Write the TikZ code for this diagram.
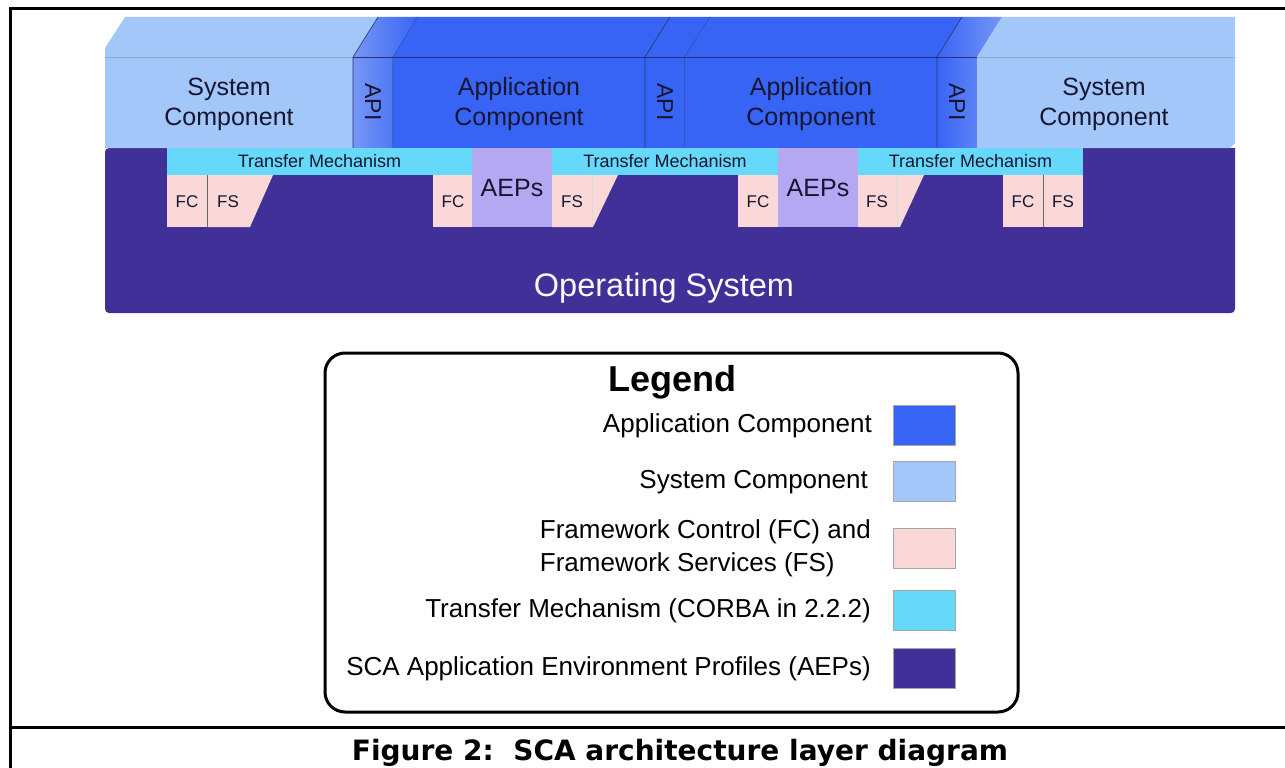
\documentclass[tikz,border=0pt]{standalone}
\usepackage{fontspec}
\setmainfont{Liberation Sans}
\newfontfamily\capfont{DejaVu Sans}

\definecolor{appblue}{RGB}{56,100,245}
\definecolor{apilight}{RGB}{118,150,246}
\definecolor{sysblue}{RGB}{164,199,250}
\definecolor{fwpink}{RGB}{250,216,216}
\definecolor{tmcyan}{RGB}{102,216,250}
\definecolor{aepdark}{RGB}{64,48,152}
\definecolor{aeplav}{RGB}{180,168,242}
\definecolor{edgeline}{RGB}{40,50,110}
\definecolor{inktext}{RGB}{22,22,48}

\tikzset{
  lbl/.style={inner sep=0pt, text=inktext, font=\fontsize{25}{30}\selectfont, align=center},
  apilbl/.style={inner sep=0pt, text=inktext, font=\fontsize{23}{23}\selectfont, rotate=-90},
  tmlbl/.style={inner sep=0pt, text=inktext, font=\fontsize{18}{18}\selectfont},
  fclbl/.style={inner sep=0pt, text=inktext, font=\fontsize{17}{17}\selectfont},
  aeplbl/.style={inner sep=0pt, text=inktext, font=\fontsize{25}{25}\selectfont},
  thin edge/.style={draw=edgeline, line width=0.6pt},
  legtxt/.style={inner sep=0pt, anchor=east, font=\fontsize{26}{33}\selectfont, align=left},
  swatch/.style={draw=black!35, line width=0.6pt, minimum width=62pt, minimum height=40pt, inner sep=0pt}
}

\begin{document}
\begin{tikzpicture}[x=1pt, y=-1pt]
\useasboundingbox (0,0) rectangle (1285,768);
\fill[white] (0,0) rectangle (1285,768);

% ---- outer frame and caption rule
\draw[line width=3pt] (1300,9) -- (10,9) -- (10,790);
\draw[line width=3pt] (10,727) -- (1300,727);

% ---- operating system slab
\fill[aepdark] (105,148) -- (1235,148) -- (1235,308) [rounded corners=4pt] -- (1235,313) -- (105,313) -- cycle;

% ---- left system component
\fill[sysblue] (105,148) -- (105,48) -- (125,17) -- (378,17) -- (353,57) -- (353,148) -- cycle;
\draw[sysblue!85!black, line width=0.4pt] (105,57) -- (353,57);

% ---- first API (shaded)
\shade[left color=apilight, right color=appblue] (353,148) -- (353,57) -- (378,17) -- (418,17) -- (393,57) -- (393,148) -- cycle;
\draw[thin edge] (353,148) -- (353,57) -- (378,17);
\draw[thin edge] (393,148) -- (393,57) -- (418,17);
\draw[thin edge] (353,57) -- (393,57);

% ---- first application component
\fill[appblue] (393,148) -- (393,57) -- (418,17) -- (670,17) -- (645,57) -- (645,148) -- cycle;
\draw[thin edge] (393,57) -- (645,57);

% ---- middle API
\fill[appblue] (645,148) -- (645,57) -- (670,17) -- (710,17) -- (685,57) -- (685,148) -- cycle;
\draw[thin edge] (645,148) -- (645,57) -- (670,17);
\draw[thin edge] (685,148) -- (685,57) -- (710,17);
\draw[thin edge] (645,57) -- (685,57);

% ---- second application component
\fill[appblue] (685,148) -- (685,57) -- (710,17) -- (962,17) -- (937,57) -- (937,148) -- cycle;
\draw[thin edge] (685,57) -- (937,57);

% ---- right API (shaded)
\shade[left color=appblue, right color=apilight] (937,148) -- (937,57) -- (962,17) -- (1002,17) -- (977,57) -- (977,148) -- cycle;
\draw[thin edge] (937,148) -- (937,57) -- (962,17);
\draw[thin edge] (937,57) -- (977,57);

% ---- right system component
\fill[sysblue] (977,148) -- (977,57) -- (1002,17) -- (1235,17) -- (1235,143) -- (1230,148) -- cycle;
\draw[sysblue!85!black, line width=0.4pt] (977,57) -- (1235,57);

% ---- transfer mechanism bands
\fill[tmcyan] (167,148) rectangle (472,175);
\fill[tmcyan] (552,148) rectangle (778,175);
\fill[tmcyan] (858,148) rectangle (1083,175);

% ---- AEP blocks
\fill[aeplav] (472,148) rectangle (552,227);
\fill[aeplav] (778,148) rectangle (858,227);

% ---- framework control / services
\fill[fwpink] (167,175) rectangle (207,227);
\fill[fwpink] (207,175) -- (273,175) -- (250,227) -- (207,227) -- cycle;
\draw[black!60, line width=0.5pt] (207,175) -- (207,227);
\fill[fwpink] (433,175) rectangle (472,227);
\fill[fwpink] (552,175) -- (618,175) -- (593,227) -- (552,227) -- cycle;
\draw[black!15, line width=0.5pt] (592,175) -- (592,227);
\fill[fwpink] (738,175) rectangle (778,227);
\fill[fwpink] (858,175) -- (924,175) -- (900,227) -- (858,227) -- cycle;
\draw[black!15, line width=0.5pt] (897,175) -- (897,227);
\fill[fwpink] (1003,175) rectangle (1083,227);
\draw[black!60, line width=0.5pt] (1043,175) -- (1043,227);

% ---- labels of the layer diagram
\node[lbl] (sysL) at (229,104) {System\\Component};
\node[lbl] (appL) at (519,104) {Application\\Component};
\node[lbl] (appR) at (811,104) {Application\\Component};
\node[lbl] (sysR) at (1104,104) {System\\Component};
\node[apilbl] (api1) at (373,102) {API};
\node[apilbl] (api2) at (665,102) {API};
\node[apilbl] (api3) at (957,102) {API};
\node[tmlbl] (tm1) at (319.5,161.5) {Transfer Mechanism};
\node[tmlbl] (tm2) at (665,161.5) {Transfer Mechanism};
\node[tmlbl] (tm3) at (970.5,161.5) {Transfer Mechanism};
\node[aeplbl] (aep1) at (512,188) {AEPs};
\node[aeplbl] (aep2) at (818,188) {AEPs};
\node[fclbl] (fc1) at (187,202) {FC};
\node[fclbl] (fs1) at (228,202) {FS};
\node[fclbl] (fc2) at (453,202) {FC};
\node[fclbl] (fs2) at (572,202) {FS};
\node[fclbl] (fc3) at (758,202) {FC};
\node[fclbl] (fs3) at (877,202) {FS};
\node[fclbl] (fc4) at (1023,202) {FC};
\node[fclbl] (fs4) at (1063,202) {FS};
\node[inner sep=0pt, text=white!92!aeplav, font=\fontsize{32.5}{32.5}\selectfont] (os) at (664,288) {Operating System};

% ---- legend
\draw[line width=3pt, rounded corners=20pt] (325,353) rectangle (1018,712);
\node[inner sep=0pt, font=\bfseries\fontsize{36}{36}\selectfont] (legtitle) at (672,382) {Legend};
\node[legtxt] (lt1) at (872,426) {Application Component};
\node[legtxt] (lt2) at (868,482) {System Component};
\node[legtxt] (lt3) at (871,548) {Framework Control (FC) and\\Framework Services (FS)};
\node[legtxt] (lt4) at (871,611) {Transfer Mechanism (CORBA in 2.2.2)};
\node[legtxt] (lt5) at (871,669) {SCA Application Environment Profiles (AEPs)};
\node[swatch, fill=appblue] (sw1) at (924,425) {};
\node[swatch, fill=sysblue] (sw2) at (924,481) {};
\node[swatch, fill=fwpink] (sw3) at (924,548) {};
\node[swatch, fill=tmcyan] (sw4) at (924,610) {};
\node[swatch, fill=aepdark] (sw5) at (924,668) {};

% ---- caption
\node[inner sep=0pt, font=\capfont\bfseries\fontsize{28}{28}\selectfont] (caption) at (680,753) {Figure 2:\ \ SCA architecture layer diagram};
\end{tikzpicture}
\end{document}
